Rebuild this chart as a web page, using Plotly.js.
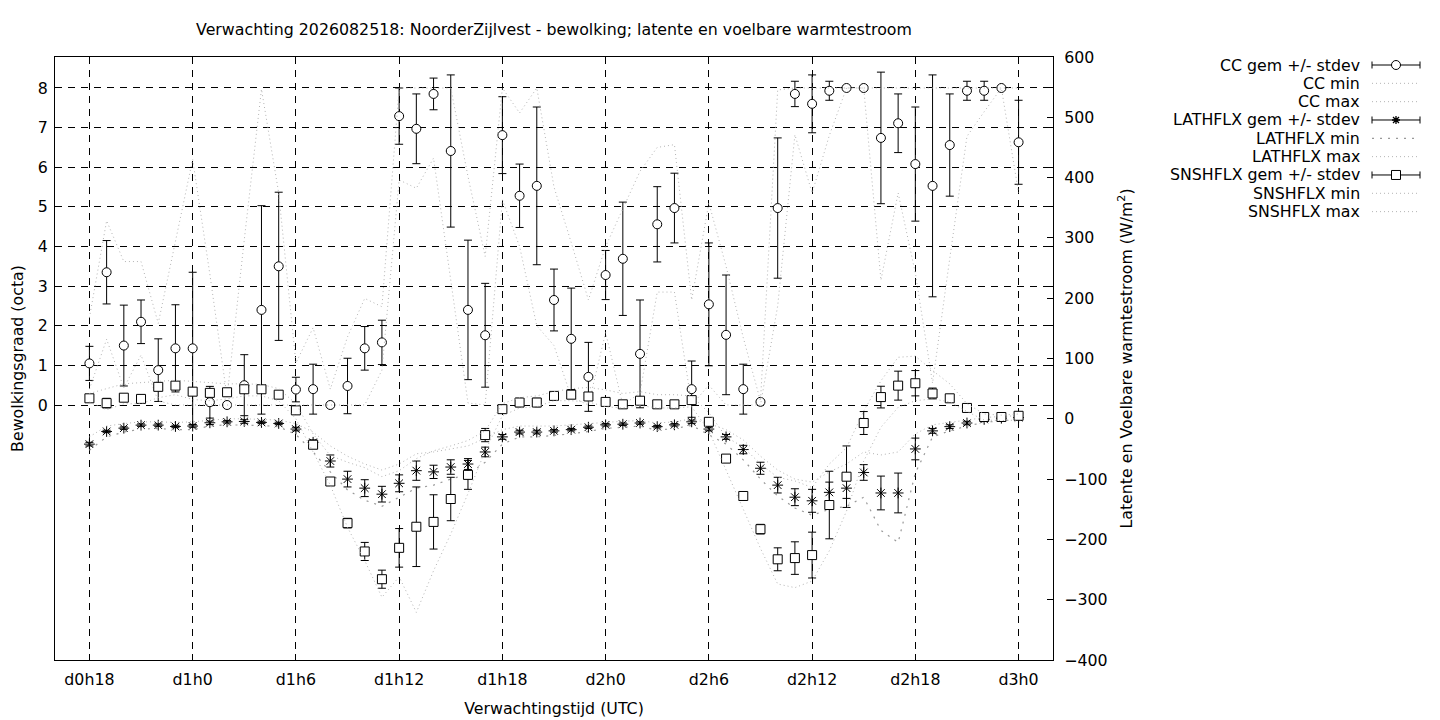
<!DOCTYPE html>
<html>
<head>
<meta charset="utf-8">
<script src="https://cdn.plot.ly/plotly-3.0.1.min.js"></script>
<style>
html,body{margin:0;padding:0;background:#fff;}
#chart{width:1440px;height:720px;}
</style>
</head>
<body>
<div id="chart"></div>
<script>
// ---- data ----
const hours = [18,19,20,21,22,23,24,25,26,27,28,29,30,31,32,33,34,35,36,37,38,39,40,41,42,43,44,45,46,47,48,49,50,51,52,53,54,55,56,57,58,59,60,61,62,63,64,65,66,67,68,69,70,71,72];
const tickHours = [18,24,30,36,42,48,54,60,66,72];
const tickLabels = ['d0h18','d1h0','d1h6','d1h12','d1h18','d2h0','d2h6','d2h12','d2h18','d3h0'];
const ccTicks = [0,1,2,3,4,5,6,7,8];

const ccMean = [1.05,3.35,1.5,2.1,0.88,1.43,1.43,0.07,0.0,0.5, 2.4,3.5,0.39,0.4,0.0,0.48,1.43,1.58,7.29,6.97, 7.85,6.41,2.4,1.76,6.81,5.28,5.53,2.65,1.67,0.71, 3.28,3.69,1.29,4.56,4.97,0.4,2.54,1.77,0.4,0.08, 4.97,7.85,7.6,7.93,8.0,8.0,6.74,7.11,6.08,5.53, 6.56,7.93,7.93,8.0,6.63];
const ccSd = [0.43,0.8,1.02,0.55,0.79,1.1,1.92,0.4,0,0.77, 2.63,1.87,0.31,0.63,0,0.7,0.55,0.56,0.71,0.88, 0.4,1.92,1.76,1.31,0.97,0.8,1.99,0.78,1.28,0.87, 0.62,1.43,1.36,0.95,0.88,0.71,1.55,1.51,0.63,0, 1.77,0.32,0.73,0.24,0,0,1.66,0.74,1.44,2.8, 1.29,0.24,0.24,0,1.06];
const ccMin = [0.4,1.66,0.43,1.26,0.1,0,0,0,0,0, 0,0,0,0,0,0,0,0.88,5.68,5.47, 6.23,3.15,0.05,0,5.18,4.0,2.0,1.5,0.2,0, 1.83,0,0.3,2.85,2.85,0,0.5,0,0,0, 2.5,6.82,5.35,6.8,8.0,8.0,3.15,5.35,3.33,0.55, 3.7,6.78,7.4,8.0,5.35];
const ccMax = [2.2,4.65,3.62,3.62,2.06,4.1,6.2,3.3,0.2,4.17, 7.97,5.35,1.06,1.95,0.4,1.72,2.69,2.48,8,8, 8,8,5.77,3.75,8,7.37,8,5.5,4.1,2.65, 4.0,4.95,5.9,6.5,6.57,2.65,5.1,3.5,1.7,0.1, 7.95,8,8,8,8,8,8,8,8,8, 8,8,8,8,8];

const lathMean = [-42,-21,-15.5,-10.5,-10.5,-12.7,-12,-6.6,-5,-4.4, -6,-7.7,-17,-39,-70,-100,-115,-125,-107,-86, -88,-80,-75,-55,-30,-22,-22,-20,-18,-14, -10,-9,-7,-13,-10,-5,-17,-30,-51,-82, -110,-130,-136,-122,-115,-89,-123,-123,-50,-20, -13,-7,-1,1,2];
const lathSd = [3,2,2,2,2,2,2,3,2,3, 2,2,3,4,10,13,14,13,14,16, 11,12,9,8,4,3,3,2,2,2, 2,2,2,2,2,3,3,4,7,10, 13,14,19,17,17,13,28,33,18,4, 3,3,2,2,2];
const lathMin = [-52,-30,-22,-17,-16,-18,-18,-12,-10,-10, -11,-13,-26,-55,-88,-118,-135,-145,-130,-115, -110,-100,-92,-72,-42,-30,-30,-28,-25,-21, -16,-14,-12,-19,-16,-11,-26,-42,-68,-100, -128,-148,-160,-150,-145,-130,-185,-205,-90,-30, -20,-12,-6,-3,-2];
const lathMax = [-30,-12,-8,-5,-5,-6,-5,-2,0,0, -1,-2,-8,-22,-45,-62,-75,-85,-75,-58, -55,-50,-45,-32,-18,-12,-12,-12,-10,-8, -5,-4,-3,-7,-5,0,-8,-18,-35,-62, -85,-100,-105,-88,-75,-55,-60,-55,-25,-10, -6,-2,2,4,5];

const snsMean = [34,26,35,33,53,55,45,43,44,49, 49,40,14,-43,-104,-173,-220,-266,-214,-179, -171,-133,-93,-27,16,27,27,38,40,37, 28,24,30,24,24,31,-5,-66,-128,-183, -233,-231,-226,-143,-96,-7,36,55,59,42, 34,18,3,3,5];
const snsSd = [3,8,3,3,4,4,3,3,2,3, 3,3,3,3,4,8,15,15,32,66, 45,36,24,11,4,7,7,3,3,3, 3,3,3,3,3,3,3,3,3,8, 19,27,38,56,51,19,18,24,21,9, 5,3,3,3,3];
const snsMin = [28,15,25,25,35,40,32,30,33,38, 38,30,0,-55,-110,-180,-235,-296,-262,-321, -252,-191,-124,-53,5,18,20,30,30,28, 20,18,22,18,18,20,-20,-85,-150,-215, -274,-280,-269,-219,-153,-70,-14,19,30,33, 28,12,-2,-3,-2];
const snsMax = [42,50,58,60,62,64,62,60,58,58, 57,50,25,-25,-61,-72,-81,-96,-86,-66, -53,-45,-36,-20,25,35,38,45,50,52, 48,42,45,40,40,38,10,-30,-47,-75, -97,-103,-114,-75,-48,13,63,102,104,80, 58,25,8,6,8];

const legendLabels = ['CC gem +/- stdev','CC min','CC max','LATHFLX gem +/- stdev','LATHFLX min','LATHFLX max','SNSHFLX gem +/- stdev','SNSHFLX min','SNSHFLX max'];

// ---- styling ----
const FONT = 'DejaVu Sans, Verdana, sans-serif';
const FS = 15.8;
const GRAY = '#b4b4b4';
const dotDense = '1px,3px';
const dotSparse = '2px,6px';

function meanTrace(y, sd, symbol, axis){
  return {x: hours, y: y, yaxis: axis, type:'scatter', mode:'markers', showlegend:false, hoverinfo:'x+y',
    marker:{symbol: symbol, size: 9, color: symbol==='asterisk-open' ? '#000' : '#fff', line:{color:'#000', width:1}},
    error_y:{type:'data', array: sd, visible:true, color:'#000', thickness:1, width:4}};
}
function lineTrace(y, axis, dash, color, width){
  return {x: hours, y: y, yaxis: axis, type:'scatter', mode:'lines', showlegend:false, hoverinfo:'x+y',
    line:{color: color, width: width, dash: dash}};
}

const traces = [
  meanTrace(ccMean, ccSd, 'circle', 'y'),
  lineTrace(ccMin, 'y', dotDense, GRAY, 1),
  lineTrace(ccMax, 'y', dotDense, GRAY, 1),
  meanTrace(lathMean, lathSd, 'asterisk-open', 'y2'),
  lineTrace(lathMin, 'y2', dotSparse, '#999', 1.2),
  lineTrace(lathMax, 'y2', dotDense, GRAY, 1),
  meanTrace(snsMean, snsSd, 'square', 'y2'),
  lineTrace(snsMin, 'y2', dotDense, GRAY, 1),
  lineTrace(snsMax, 'y2', dotDense, GRAY, 1)
];

// ---- custom legend (gnuplot style: text right, sample left) ----
const PL = 55, PR = 1053, PT = 57, PB = 660;
const px = v => (v - PL) / (PR - PL);
const py = v => (PB - v) / (PB - PT);
const shapes = [];
const annotations = [];
const legendKinds = ['circle','dense','dense','asterisk','sparse','dense','square','dense','dense'];
legendLabels.forEach((lab, k) => {
  const yc = 65 + k * 18.33;
  annotations.push({xref:'paper', yref:'paper', x: px(1362), y: py(yc), xanchor:'right', yanchor:'middle',
    text: lab, showarrow:false, font:{family:FONT, size:FS, color:'#000'}});
  const kind = legendKinds[k];
  if (kind === 'dense' || kind === 'sparse') {
    shapes.push({type:'line', xref:'paper', yref:'paper', x0: px(1372), x1: px(1420), y0: py(yc), y1: py(yc),
      line:{color: kind==='sparse' ? '#999' : GRAY, width: kind==='sparse'?1.2:1, dash: kind==='sparse'?dotSparse:dotDense}});
  } else {
    const ln = {color:'#000', width:1};
    shapes.push({type:'line', xref:'paper', yref:'paper', x0: px(1372), x1: px(1420), y0: py(yc), y1: py(yc), line: ln});
    shapes.push({type:'line', xref:'paper', yref:'paper', x0: px(1372), x1: px(1372), y0: py(yc-3.5), y1: py(yc+3.5), line: ln});
    shapes.push({type:'line', xref:'paper', yref:'paper', x0: px(1420), x1: px(1420), y0: py(yc-3.5), y1: py(yc+3.5), line: ln});
    const cx = 1396, r = 4.5;
    if (kind === 'circle') {
      shapes.push({type:'circle', xref:'paper', yref:'paper', x0: px(cx-r), x1: px(cx+r), y0: py(yc+r), y1: py(yc-r), fillcolor:'#fff', line: ln});
    } else if (kind === 'square') {
      shapes.push({type:'rect', xref:'paper', yref:'paper', x0: px(cx-r), x1: px(cx+r), y0: py(yc+r), y1: py(yc-r), fillcolor:'#fff', line: ln});
    } else {
      const d = 4, q = 3;
      const path = `M${px(cx-d)},${py(yc)} L${px(cx+d)},${py(yc)} M${px(cx)},${py(yc-d)} L${px(cx)},${py(yc+d)} ` +
                   `M${px(cx-q)},${py(yc-q)} L${px(cx+q)},${py(yc+q)} M${px(cx-q)},${py(yc+q)} L${px(cx+q)},${py(yc-q)}`;
      shapes.push({type:'path', xref:'paper', yref:'paper', path: path, line:{color:'#000', width:1.3}});
    }
  }
});

const layout = {
  width: 1440, height: 720,
  margin: {l: PL, r: 1440 - PR, t: PT, b: 720 - PB, pad: 0},
  paper_bgcolor: '#fff', plot_bgcolor: '#fff',
  font: {family: FONT, size: FS, color: '#000'},
  showlegend: false,
  title: {text: 'Verwachting 2026082518: NoorderZijlvest - bewolking; latente en voelbare warmtestroom',
    font: {family: FONT, size: FS, color:'#000'}, x: px(554), xref:'paper', xanchor:'center',
    y: 1 - 29/720, yref:'container', yanchor:'middle'},
  xaxis: {range: [16, 74], tickmode:'array', tickvals: tickHours, ticktext: tickLabels,
    ticks:'inside', ticklen: 6, tickcolor:'#000', showline: true, linecolor:'#000', linewidth: 1, mirror:'ticks',
    ticklabelstandoff: 5,
    showgrid: true, gridcolor:'#000', gridwidth: 1, griddash:'7px,6px', zeroline:false,
    tickfont:{family:FONT, size:FS}, title:{text:'Verwachtingstijd (UTC)', font:{family:FONT, size:FS}, standoff: 14}},
  yaxis: {range: [-6.435, 8.782], tickmode:'array', tickvals: ccTicks, ticktext: ccTicks.map(String),
    ticks:'inside', ticklen: 6, tickcolor:'#000', showline: true, linecolor:'#000', linewidth: 1, mirror:'ticks',
    ticklabelstandoff: 3,
    showgrid: true, gridcolor:'#000', gridwidth: 1, griddash:'7px,6px', zeroline:false,
    tickfont:{family:FONT, size:FS}, title:{text:'Bewolkingsgraad (octa)', font:{family:FONT, size:FS}, standoff: 10}},
  yaxis2: {range: [-400, 600], overlaying:'y', side:'right', dtick: 100, tick0: 0,
    ticks:'inside', ticklen: 6, tickcolor:'#000', showline: true, linecolor:'#000', linewidth: 1,
    ticklabelstandoff: 7,
    showgrid:false, zeroline:false, tickfont:{family:FONT, size:FS},
    title:{text:'Latente en Voelbare warmtestroom (W/m<sup>2</sup>)', font:{family:FONT, size:FS}, standoff: 14}},
  shapes: shapes,
  annotations: annotations
};

Plotly.newPlot('chart', traces, layout, {displayModeBar:false, staticPlot:true});
</script>
</body>
</html>
